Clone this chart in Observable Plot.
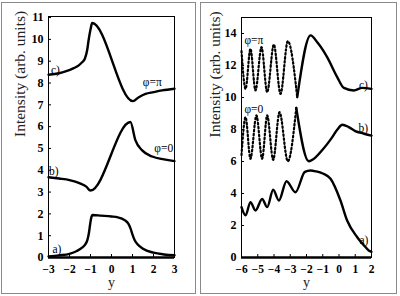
<!DOCTYPE html>
<html><head><meta charset="utf-8">
<script src="https://cdn.jsdelivr.net/npm/d3@7"></script>
<script src="https://cdn.jsdelivr.net/npm/@observablehq/plot@0.6"></script>
<style>
body{margin:0;background:#fff}
#wrap{position:relative;width:400px;height:296px;overflow:hidden;background:#fff}
.box{position:absolute;border:1px solid #8a8a8a;box-sizing:border-box}
.panel{position:absolute;top:0}
</style></head><body>
<div id="wrap">
<div class="box" style="left:1px;top:2px;width:195px;height:292px"></div>
<div class="box" style="left:200px;top:2px;width:197px;height:292px"></div>
<div id="left" class="panel" style="left:0"></div>
<div id="right" class="panel" style="left:200px"></div>
</div>
<script>
// ---- Left panel data ----
const leftAX = [-3, -2.5, -2, -1.65, -1.4, -1.25, -1.15, -1.08, -1.02, -0.97, -0.9, -0.5, 0, 0.3, 0.5, 0.65, 0.8, 0.9, 1.0, 1.1, 1.25, 1.5, 2.0, 2.5, 3];
const leftAY = [0.05, 0.1, 0.17, 0.3, 0.45, 0.6, 0.8, 1.1, 1.5, 1.8, 1.95, 1.92, 1.88, 1.84, 1.78, 1.7, 1.55, 1.35, 1.05, 0.8, 0.6, 0.4, 0.22, 0.14, 0.1];
const leftBX = [-3, -2.5, -2, -1.5, -1.2, -1.0, 0.9, 1.14, 1.46, 1.94, 2.5, 3];
const leftBY = [3.68, 3.62, 3.55, 3.4, 3.25, 3.07, 6.21, 5.37, 4.91, 4.63, 4.5, 4.42];
const leftCX = [-3, -2.5, -2.19, -1.8, -1.56, -1.4, -1.27, -1.16, -1.08, -1.0, -0.92, 1.02, 1.3, 1.62, 2.0, 2.41, 3];
const leftCY = [8.38, 8.45, 8.53, 8.68, 8.81, 8.95, 9.11, 9.5, 10.03, 10.45, 10.75, 7.17, 7.35, 7.5, 7.58, 7.66, 7.74];
const leftLabels = ["a)", "b)", "c)", "φ=0", "φ=π"];
const leftLabelX = [-2.6, -2.75, -2.67, 2.49, 1.94];
const leftLabelY = [0.37, 3.96, 8.6, 4.99, 8.04];
const leftXTicks = [-3, -2, -1, 0, 1, 2, 3];
const leftYTicks = [0, 1, 2, 3, 4, 5, 6, 7, 8, 9, 10, 11];

// ---- Right panel data ----
const rightAX = [-6, -5.75, -5.45, -5.14, -4.73, -4.42, -4.05, -3.7, -3.23, -2.68, -2.1, -1.75, -1.4, -1.0, -0.52, 0.09, 0.5, 1.12, 1.5, 1.83, 2];
const rightAY = [3.15, 2.63, 3.46, 2.94, 3.66, 3.15, 4.23, 3.56, 4.77, 4.08, 5.35, 5.44, 5.38, 5.25, 4.92, 3.56, 2.31, 1.27, 0.8, 0.44, 0.35];
const rightBX = [-6, -5.75, -5.45, -5.08, -4.73, -4.42, -4.05, -3.66, -3.15, -2.63, -1.86, -1.4, -1.0, -0.5, -0.1, 0.2, 0.6, 1.0, 1.5, 2];
const rightBY = [6.4, 8.77, 6.17, 8.88, 6.17, 8.88, 6.1, 9.08, 6.02, 9.35, 6.02, 6.3, 6.75, 7.4, 8.0, 8.3, 8.15, 7.9, 7.75, 7.62];
const rightCX = [-6, -5.75, -5.45, -5.14, -4.77, -4.42, -4.01, -3.6, -3.15, -2.57, -1.75, -1.3, -0.73, -0.11, 0.3, 0.91, 1.43, 2];
const rightCY = [12.9, 10.54, 13.04, 10.44, 13.15, 10.33, 13.31, 10.23, 13.52, 10.02, 13.88, 13.4, 12.52, 11.27, 10.6, 10.44, 10.6, 10.54];
const rightBSplit = 9;   // index where the dotted oscillating part ends
const rightCSplit = 9;
const rightLabels = ["a)", "b)", "c)", "φ=0", "φ=π"];
const rightLabelX = [1.53, 1.5, 1.5, -5.24, -5.24];
const rightLabelY = [1.1, 8.06, 10.75, 9.29, 13.56];
const rightXTicks = [-6, -5, -4, -3, -2, -1, 0, 1, 2];
const rightYTicks = [0, 2, 4, 6, 8, 10, 12, 14];

const yLabel = ["Intensity (arb. units)"];
const xLabel = ["y"];

const SERIF = "Liberation Serif";
const pts = (xs, ys) => xs.map((x, i) => ({x, y: ys[i]}));

function makePanel(cfg) {
  const marks = [
    Plot.ruleY([0], {stroke: "black", strokeWidth: 2.5}),
    ...cfg.solid.map(d => Plot.line(d, {x: "x", y: "y", stroke: "black", strokeWidth: 2.4, curve: "monotone-x"})),
    ...cfg.dotted.map(d => Plot.line(d, {x: "x", y: "y", stroke: "black", strokeWidth: 2.2, strokeDasharray: "1.6,2.4", curve: "monotone-x"})),
    Plot.text(cfg.labels.map((t, i) => ({t, x: cfg.lx[i], y: cfg.ly[i]})), {x: "x", y: "y", text: "t", fontSize: 11.5, fontFamily: SERIF, fill: "black"}),
    Plot.frame({stroke: "black", strokeWidth: 1}),
    Plot.axisY({ticks: cfg.yTicks, tickFormat: d3.format("d"), tickSize: -3, tickPadding: 8, label: null, fontSize: 12, fontWeight: "bold", fontFamily: SERIF}),
    Plot.axisX({ticks: cfg.xTicks, tickFormat: d3.format("d"), tickSize: -3, tickPadding: 10, label: null, fontSize: 11.5, fontWeight: "bold", fontFamily: SERIF}),
    Plot.text(yLabel, {frameAnchor: "left", rotate: -90, dx: cfg.ylabDx, fontSize: 15.5, fontFamily: SERIF, fill: "#222"}),
    Plot.text(xLabel, {frameAnchor: "bottom", dy: 29, fontSize: 14, fontFamily: SERIF, fill: "#222"})
  ];
  return Plot.plot({
    width: cfg.width, height: 296,
    marginLeft: cfg.ml, marginRight: cfg.mr, marginTop: cfg.mt, marginBottom: 39,
    x: {domain: cfg.xd},
    y: {domain: cfg.yd},
    style: {background: "transparent", overflow: "visible", fontFamily: SERIF},
    marks
  });
}

const L = pts(leftAX, leftAY), B = pts(leftBX, leftBY), C = pts(leftCX, leftCY);
document.getElementById("left").append(makePanel({
  width: 198, ml: 48, mr: 24, mt: 16, xd: [-3, 3], yd: [0, 11.05],
  xTicks: leftXTicks, yTicks: leftYTicks,
  solid: [L, B, C], dotted: [],
  labels: leftLabels, lx: leftLabelX, ly: leftLabelY, ylabDx: -28
}));

const RA = pts(rightAX, rightAY), RB = pts(rightBX, rightBY), RC = pts(rightCX, rightCY);
document.getElementById("right").append(makePanel({
  width: 200, ml: 41, mr: 29, mt: 17, xd: [-6, 2], yd: [0, 15],
  xTicks: rightXTicks, yTicks: rightYTicks,
  solid: [RA, RB.slice(rightBSplit), RC.slice(rightCSplit)],
  dotted: [RB.slice(0, rightBSplit + 1), RC.slice(0, rightCSplit + 1)],
  labels: rightLabels, lx: rightLabelX, ly: rightLabelY, ylabDx: -26
}));
</script>
</body></html>
